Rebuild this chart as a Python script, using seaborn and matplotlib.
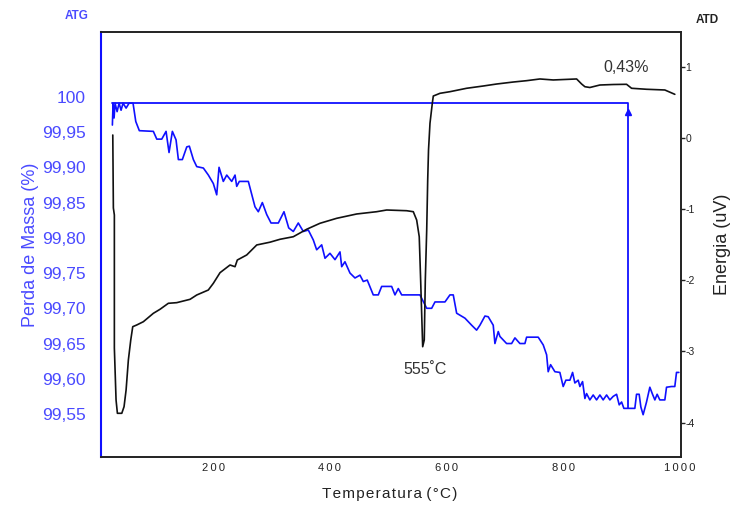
import matplotlib
matplotlib.use("Agg")
import matplotlib.pyplot as plt
import seaborn as sns
import pandas as pd

# ---- TG (ATG) curve: temperature (°C) vs mass (%) ----
tg_temp = [27.5, 28.7, 30.4, 32.1, 35.6, 39.0, 42.4, 45.8, 51.0, 56.1, 62.9, 67.6, 73.7, 97.7,
           103.6, 112.1, 119.5, 124.6, 130.3, 136.6, 140.6, 147.4, 155.0, 159.4, 166.3, 172.1,
           183.4, 192.0, 200.5, 206.3, 210.3, 217.6, 223.5, 232.0, 237.7, 240.6, 245.1, 260.5,
           271.9, 277.6, 284.5, 292.0, 299.4, 311.9, 321.6, 329.7, 337.6, 346.1, 354.7, 363.3,
           371.8, 377.6, 386.2, 391.9, 400.4, 409.0, 417.6, 420.5, 426.1, 434.7, 443.3, 451.8,
           457.5, 464.3, 474.6, 483.2, 489.0, 506.1, 511.8, 517.5, 523.3, 554.6, 566.2, 574.7,
           580.4, 597.5, 606.0, 611.7, 617.5, 631.7, 643.2, 651.7, 657.4, 666.0, 671.6, 680.2,
           683.1, 688.8, 691.7, 703.1, 711.7, 717.4, 725.9, 734.5, 737.4, 757.3, 765.9, 771.7,
           774.4, 778.5, 785.9, 794.4, 800.1, 804.7, 811.6, 816.2, 820.1, 825.8, 828.7, 833.3,
           837.3, 840.2, 845.8, 851.5, 857.3, 863.0, 868.6, 874.5, 880.1, 885.8, 891.6, 896.1,
           900.2, 904.1, 911.5, 922.9, 925.8, 930.3, 933.2, 937.1, 942.9, 948.6, 953.2, 957.2,
           961.1, 965.7, 974.3, 977.2, 985.7, 991.4, 994.3, 998.3]
tg_mass = [99.960, 99.991, 99.970, 99.991, 99.979, 99.991, 99.981, 99.991, 99.984, 99.991, 99.991,
           99.965, 99.952, 99.951, 99.940, 99.940, 99.951, 99.921, 99.951, 99.939, 99.911, 99.911,
           99.929, 99.930, 99.911, 99.901, 99.899, 99.889, 99.877, 99.861, 99.900, 99.880, 99.889,
           99.880, 99.889, 99.873, 99.880, 99.880, 99.844, 99.837, 99.850, 99.833, 99.821, 99.821,
           99.837, 99.814, 99.809, 99.821, 99.809, 99.811, 99.797, 99.783, 99.790, 99.771, 99.778,
           99.769, 99.780, 99.759, 99.766, 99.750, 99.743, 99.747, 99.738, 99.740, 99.719, 99.719,
           99.731, 99.731, 99.719, 99.728, 99.719, 99.719, 99.700, 99.700, 99.709, 99.709, 99.719,
           99.719, 99.693, 99.686, 99.676, 99.669, 99.676, 99.689, 99.688, 99.676, 99.650, 99.667,
           99.660, 99.650, 99.650, 99.658, 99.650, 99.650, 99.659, 99.659, 99.648, 99.634, 99.610,
           99.620, 99.610, 99.609, 99.589, 99.598, 99.598, 99.609, 99.594, 99.598, 99.589, 99.596,
           99.572, 99.579, 99.570, 99.577, 99.570, 99.577, 99.570, 99.577, 99.570, 99.575, 99.578,
           99.563, 99.567, 99.558, 99.558, 99.558, 99.578, 99.578, 99.560, 99.549, 99.567, 99.588,
           99.578, 99.570, 99.578, 99.570, 99.570, 99.588, 99.589, 99.589, 99.609, 99.609]

# ---- DTA (ATD) curve: temperature (°C) vs energy (uV) ----
dta_temp = [28.2, 29.2, 30.9, 30.9, 33.8, 36.1, 43.6, 47.5, 51.0, 54.9, 59.0, 62.4, 69.3, 80.6,
            97.7, 109.2, 123.4, 137.8, 160.6, 172.1, 191.9, 200.5, 212.0, 229.1, 237.7, 241.6,
            257.7, 274.9, 297.6, 314.8, 337.6, 360.5, 383.3, 411.9, 446.2, 480.4, 497.6, 531.8,
            543.2, 549.0, 553.4, 555.8, 559.3, 562.0, 563.8, 566.2, 567.9, 569.3, 571.8, 575.8,
            577.5, 588.9, 606.0, 634.6, 663.1, 686.0, 714.5, 737.4, 760.2, 783.0, 823.1, 831.7,
            837.3, 845.8, 863.0, 885.8, 908.7, 917.3, 943.0, 974.3, 991.4]
dta_energy = [0.046, -0.981, -1.079, -2.951, -3.683, -3.870, -3.870, -3.777, -3.542, -3.120, -2.838,
              -2.651, -2.627, -2.581, -2.463, -2.406, -2.322, -2.313, -2.266, -2.205, -2.135, -2.041,
              -1.891, -1.783, -1.807, -1.713, -1.642, -1.501, -1.462, -1.421, -1.385, -1.280, -1.196,
              -1.126, -1.065, -1.033, -1.009, -1.019, -1.033, -1.150, -1.385, -1.994, -2.933, -2.838,
              -1.994, -1.290, -0.587, -0.164, 0.211, 0.493, 0.595, 0.633, 0.656, 0.704, 0.736, 0.764,
              0.792, 0.811, 0.835, 0.821, 0.835, 0.764, 0.726, 0.715, 0.750, 0.757, 0.760, 0.704,
              0.690, 0.680, 0.619]

# reference lines (mass loss construction)
ref_start_temp = 27.5
ref_end_temp = 911.0
ref_top_mass = 99.991
ref_bottom_mass = 99.558

left_ticks = [100.0, 99.95, 99.90, 99.85, 99.80, 99.75, 99.70, 99.65, 99.60, 99.55]
left_labels = ["100", "99,95", "99,90", "99,85", "99,80", "99,75", "99,70", "99,65", "99,60", "99,55"]
right_ticks = [1, 0, -1, -2, -3, -4]
x_ticks = [200, 400, 600, 800, 1000]

sns.set_style("white")
plt.rcParams['font.family'] = ['Liberation Sans', 'DejaVu Sans']

BLUE = "#1010ff"
BLUE_TXT = "#4a4aff"
DARK = "#222222"

fig = plt.figure(figsize=(7.33, 5.07), dpi=100)
ax = fig.add_axes([101/733, 1-457/507, 580/733, 425/507])

tg = pd.DataFrame({"T": tg_temp, "m": tg_mass})
sns.lineplot(data=tg, x="T", y="m", ax=ax, color=BLUE, lw=1.2, sort=False, estimator=None)
ref = pd.DataFrame({"T": [ref_start_temp, ref_end_temp, ref_end_temp],
                    "m": [ref_top_mass, ref_top_mass, ref_bottom_mass]})
sns.lineplot(data=ref, x="T", y="m", ax=ax, color=BLUE, lw=1.3, sort=False, estimator=None)
ax.plot([ref_end_temp], [ref_top_mass - 0.012], marker="^", color=BLUE, ms=4)

ax.set_xlim(8, 1002)
ax.set_ylim(99.489, 100.092)
ax.set_yticks(left_ticks)
ax.set_yticklabels(left_labels, color=BLUE_TXT, fontsize=12.5)
ax.tick_params(axis="y", length=0, pad=11)
ax.set_xticks(x_ticks)
ax.set_xticklabels(["\u2009".join(str(t)) for t in x_ticks], fontsize=8, color=DARK)
ax.tick_params(axis="x", length=0, pad=4)
ax.set_xlabel("")
ax.set_ylabel("Perda de Massa (%)", color=BLUE_TXT, fontsize=13, labelpad=2)
for s in ["top", "bottom", "right"]:
    ax.spines[s].set_color(DARK)
    ax.spines[s].set_linewidth(1.2)
ax.spines["left"].set_color(BLUE)
ax.spines["left"].set_linewidth(1.5)

ax2 = ax.twinx()
dta = pd.DataFrame({"T": dta_temp, "e": dta_energy})
sns.lineplot(data=dta, x="T", y="e", ax=ax2, color="#111111", lw=1.2, sort=False, estimator=None)
ax2.set_ylim(-4.485, 1.496)
ax2.set_yticks(right_ticks)
ax2.set_yticklabels([str(t) for t in right_ticks], fontsize=7.5, color=DARK)
ax2.tick_params(axis="y", length=3, width=1, pad=0, direction="out", colors=DARK)
ax2.set_ylabel("Energia (uV)", color=DARK, fontsize=13, labelpad=14)
ax2.set_xlabel("")
ax2.spines["left"].set_visible(False)
for s in ["top", "bottom", "right"]:
    ax2.spines[s].set_color(DARK)
    ax2.spines[s].set_linewidth(1.2)

fig.text(77/733, 1-16/507, "ATG", color=BLUE_TXT, fontsize=8.5, fontweight="bold", ha="center", va="center")
fig.text(707/733, 1-20/507, "ATD", color=DARK, fontsize=8.5, fontweight="bold", ha="center", va="center")
fig.text(390/733, 1-494/507, "\u200a".join("Temperatura") + " (\u200a°\u200aC\u200a)",
         color=DARK, fontsize=11, ha="center", va="center")
ax2.text(908, 0.99, "0,43%", color="#333333", fontsize=11.5, ha="center", va="center")
ax2.text(563, -3.26, "555˚C", color="#333333", fontsize=11.5, ha="center", va="center")

fig.savefig("out.png", dpi=100)
